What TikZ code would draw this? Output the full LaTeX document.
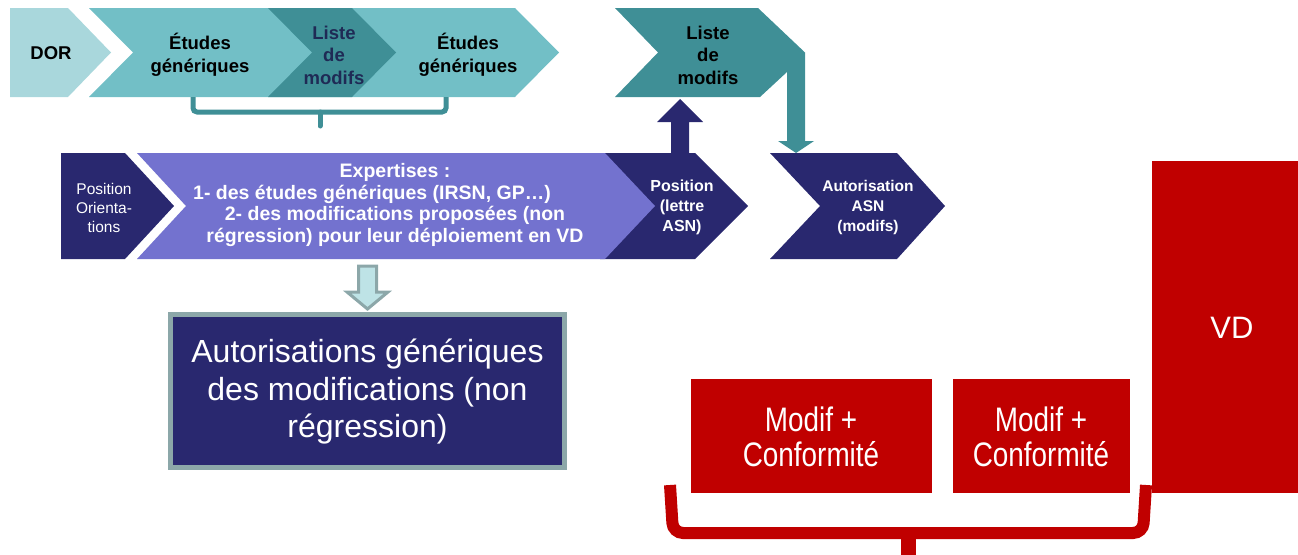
\documentclass[tikz,border=0pt]{standalone}
\usepackage{fontspec}
\setmainfont{Liberation Sans}
\newfontfamily\narrowfont{Liberation Sans}[FakeStretch=0.82]

\definecolor{tealpale}{HTML}{A9D7DC}
\definecolor{tealmid}{HTML}{72BFC6}
\definecolor{tealdark}{HTML}{3F8F96}
\definecolor{navy}{HTML}{29286F}
\definecolor{lavender}{HTML}{7372CF}
\definecolor{redbox}{HTML}{C00000}
\definecolor{greyteal}{HTML}{8CA7A9}
\definecolor{icyblue}{HTML}{BEE3E6}
\definecolor{inknavy}{HTML}{1F2A55}

\begin{document}
\begin{tikzpicture}[x=1pt,y=-1pt,
    toptxt/.style={font=\fontsize{18.5}{22.5}\selectfont\bfseries, align=center, text=black},
    midtxt/.style={font=\fontsize{16}{20}\selectfont\bfseries, align=center, text=white},
    bigtxt/.style={font=\fontsize{32}{37.5}\selectfont, align=center, text=white},
    modtxt/.style={font=\narrowfont\fontsize{34}{35}\selectfont, align=center, text=white}]

    \useasboundingbox (0,0) rectangle (1298,554);

    % Bandeau du haut
    \fill[tealpale] (10,8) -- (68,8) -- (111,52.5) -- (68,97) -- (10,97) -- cycle;
    \fill[tealmid] (89,8) -- (515,8) -- (559,52.5) -- (515,97) -- (89,97) -- (133,52.5) -- cycle;
    \fill[tealdark] (268,8) -- (352,8) -- (396,52.5) -- (352,97) -- (268,97) -- (312,52.5) -- cycle;

    % Liste de modifs -> Autorisation
    \fill[tealdark] (615,8) -- (758,8) -- (805,52.5) -- (805,141) -- (814,141) -- (796,153)
        -- (778,141) -- (787,141) -- (787,72) -- (760,97) -- (615,97) -- (658,52.5) -- cycle;

    % Accolade du haut
    \draw[tealdark, line width=5pt, rounded corners=4pt] (193,97) -- (193,112) -- (446,112) -- (446,97);
    \draw[tealdark, line width=5pt, line cap=round] (320,112) -- (320,126);

    % Bandeau du milieu
    \fill[navy] (61,153) -- (125,153) -- (174,206) -- (125,259) -- (61,259) -- cycle;
    \fill[navy] (600,153) -- (695,153) -- (748,206) -- (695,259) -- (600,259) -- cycle;
    \fill[lavender] (137,153) -- (605,153) -- (655,206) -- (605,259) -- (137,259) -- (186,206) -- cycle;
    \fill[navy] (770,153) -- (897,153) -- (945,206) -- (897,259) -- (770,259) -- (820,206) -- cycle;

    % Fleche vers la liste
    \fill[navy] (671,153) -- (671,122) -- (657,122) -- (680,99) -- (703,122) -- (689,122) -- (689,153) -- cycle;

    % Fleche creuse et cadre
    \filldraw[fill=icyblue, draw=greyteal, line width=3pt] (358.5,266) -- (376.5,266) -- (376.5,292)
        -- (388,292) -- (367.5,309) -- (347,292) -- (358.5,292) -- cycle;
    \filldraw[fill=navy, draw=greyteal, line width=5pt] (170.5,314.5) rectangle (564.5,467.5);

    % Blocs rouges
    \fill[redbox] (691,379) rectangle (932,493);
    \fill[redbox] (953,379) rectangle (1130,493);
    \fill[redbox] (1152,161) rectangle (1312,493);
    \draw[redbox, line width=12pt, rounded corners=10pt] (670,485) -- (673,533) -- (1143,533) -- (1146,485);
    \draw[redbox, line width=15pt] (908,533) -- (908,562);

    % Textes
    \node[toptxt] (dor) at (51,53) {DOR};
    \node[toptxt] (etudes1) at (200,55) {Études\\génériques};
    \node[toptxt, text=inknavy] (liste1) at (334,55) {Liste\\de\\modifs};
    \node[toptxt] (etudes2) at (468,55) {Études\\génériques};
    \node[toptxt] (liste2) at (708,55) {Liste\\de\\modifs};

    \node[midtxt, font=\fontsize{15.5}{19}\selectfont] (orient) at (104,208) {Position\\Orienta-\\tions};
    \node[midtxt, font=\fontsize{19.5}{21.5}\selectfont\bfseries] (expert) at (395,205)
        {Expertises :\\1- des études génériques (IRSN, GP…)\hspace*{46pt}\null\\2- des modifications proposées (non\\régression) pour leur déploiement en VD};
    \node[midtxt] (posasn) at (682,207) {Position\\(lettre\\ASN)};
    \node[midtxt, font=\fontsize{15.5}{20}\selectfont\bfseries] (autasn) at (868,207) {Autorisation\\ASN\\(modifs)};

    \node[bigtxt] (autgen) at (367.5,392) {Autorisations génériques\\des modifications (non\\régression)};

    \node[modtxt] (modif1) at (811,437) {Modif +\\Conformité};
    \node[modtxt] (modif2) at (1041,437) {Modif +\\Conformité};
    \node[font=\fontsize{31}{37}\selectfont, text=white] (vd) at (1232,328) {VD};
\end{tikzpicture}
\end{document}
